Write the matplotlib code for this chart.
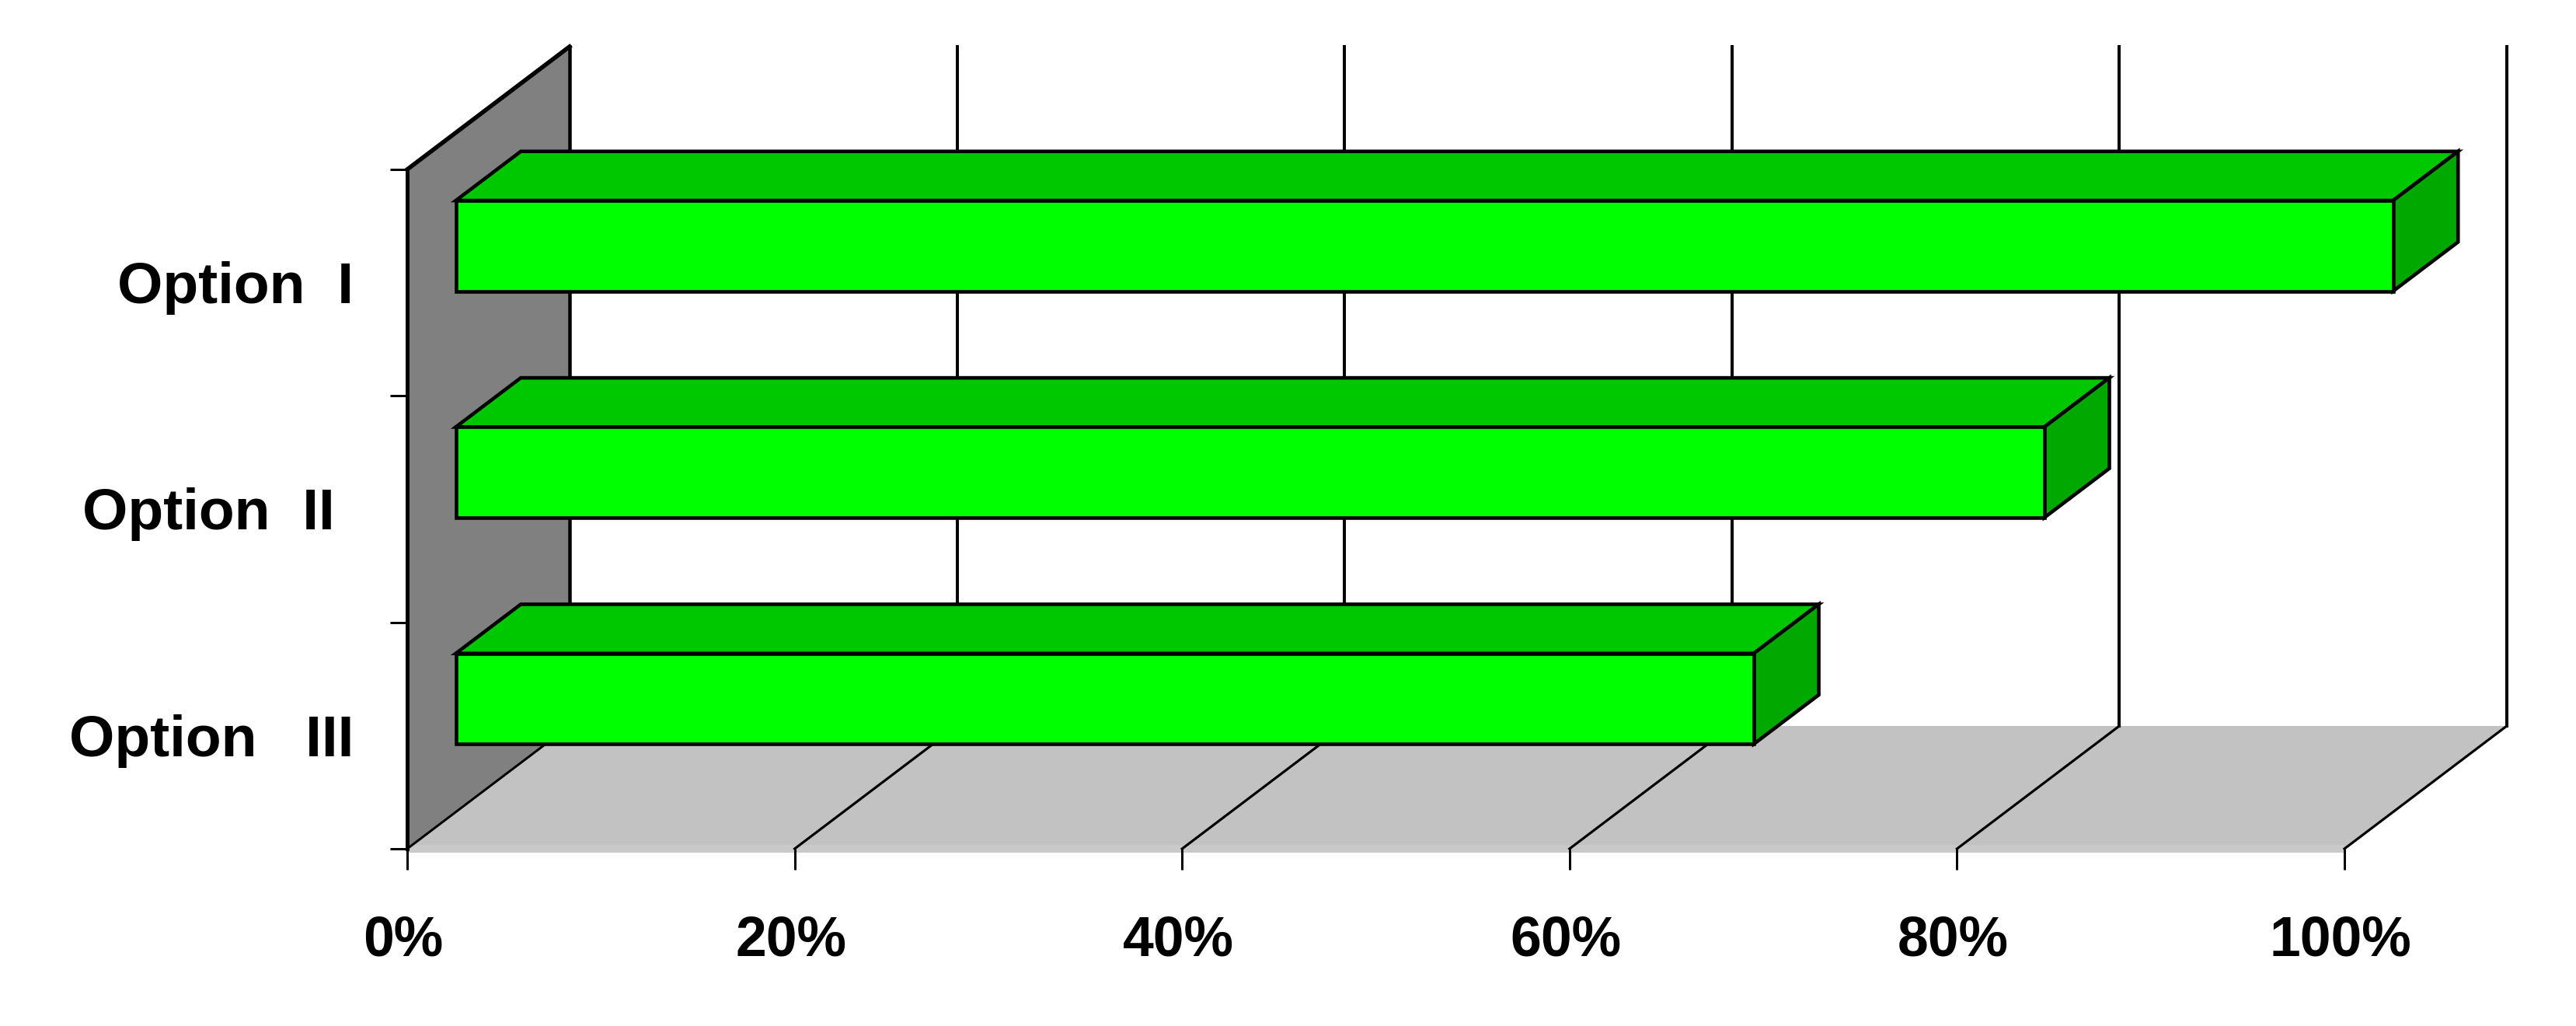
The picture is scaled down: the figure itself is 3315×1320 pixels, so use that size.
import matplotlib
matplotlib.use("Agg")
import matplotlib.pyplot as plt
from matplotlib.patches import Polygon
from matplotlib.transforms import ScaledTranslation

plt.rcParams['font.family'] = ['Liberation Sans', 'DejaVu Sans']

categories = ['Option  I', 'Option  II', 'Option   III']
values = [100, 82, 67]
x_ticks = [0, 20, 40, 60, 80, 100]
x_tick_labels = ['0%', '20%', '40%', '60%', '80%', '100%']

W, H = 3316, 1320
DPI = 100
PX = 72 / DPI

# oblique depth vector (data units per full depth of the plot box)
DEPTH_X = 8.38
DEPTH_Y = 0.5424
BAR_NEAR, BAR_FAR = 0.30, 0.70
BAR_HALF = 0.20


def proj(x, y, d):
    return (x + d * DEPTH_X, y - d * DEPTH_Y)


fig = plt.figure(figsize=(W / DPI, H / DPI), dpi=DPI, facecolor='white')
ax = fig.add_axes([524 / W, (H - 1092) / H, (3017 - 524) / W, (1092 - 218) / H])
ax.set_facecolor('none')
ax.set_xlim(0, 100)
ax.set_ylim(len(categories), 0)
for s in ax.spines.values():
    s.set_visible(False)

n = len(categories)


def poly(pts, fc, ec='none', lw=0, z=1):
    ax.add_patch(Polygon(pts, closed=True, facecolor=fc, edgecolor=ec, linewidth=lw,
                         joinstyle='miter', clip_on=False, zorder=z))


def line(p, q, lw, z=2):
    ax.plot([p[0], q[0]], [p[1], q[1]], color='black', lw=lw * PX, clip_on=False,
            solid_capstyle='projecting', zorder=z)


# floor
poly([proj(0, n, 0), proj(100, n, 0), proj(100, n, 1), proj(0, n, 1)], '#C2C2C2', z=1)
poly([(0, n - 0.018), (100, n - 0.018), (100, n + 0.016), (0, n + 0.016)], '#C9C9C9', z=1.1)

# left wall
poly([proj(0, 0, 0), proj(0, 0, 1), proj(0, n, 1), proj(0, n, 0)], '#808080', z=1.2)
line(proj(0, 0, 0), proj(0, n, 0), 5)
line(proj(0, 0, 0), proj(0, 0, 1), 5.5)
line(proj(0, 0, 1), proj(0, n, 1), 4.5)
line(proj(0, n, 0), proj(0, n, 1), 3)

# gridlines: floor diagonal + back wall vertical
for t in x_ticks[1:]:
    line(proj(t, n, 0), proj(t, n, 1), 3.2)
    line(proj(t, n, 1), proj(t, 0, 1), 4)

# bars
for i, v in enumerate(values):
    top, bot = i + 0.5 - BAR_HALF, i + 0.5 + BAR_HALF
    z = 3 + i * 0.1
    kw = dict(ec='black', lw=4.6 * PX, z=z)
    poly([proj(0, top, BAR_NEAR), proj(v, top, BAR_NEAR), proj(v, top, BAR_FAR), proj(0, top, BAR_FAR)],
         '#00C800', **kw)
    poly([proj(v, top, BAR_NEAR), proj(v, bot, BAR_NEAR), proj(v, bot, BAR_FAR), proj(v, top, BAR_FAR)],
         '#00A800', **kw)
    poly([proj(0, top, BAR_NEAR), proj(v, top, BAR_NEAR), proj(v, bot, BAR_NEAR), proj(0, bot, BAR_NEAR)],
         '#00FF00', **kw)

# x axis
ax.set_xticks(x_ticks)
ax.set_xticklabels(x_tick_labels, fontsize=51.5, fontweight='bold')
ax.tick_params(axis='x', length=27 * PX, width=3 * PX, pad=58 * PX, color='black')
x_shift = ScaledTranslation(-5 / DPI, 0, fig.dpi_scale_trans)
for lab in ax.get_xticklabels():
    lab.set_transform(lab.get_transform() + x_shift)

# y axis: boundary ticks + centred category labels
ax.set_yticks(range(n + 1))
ax.set_yticklabels([])
ax.tick_params(axis='y', which='major', length=22 * PX, width=3 * PX, color='black')
ax.set_yticks([i + 0.5 for i in range(n)], minor=True)
ax.set_yticklabels(categories, minor=True, fontsize=54, fontweight='bold', va='center')
ax.tick_params(axis='y', which='minor', length=0)
y_shift = ScaledTranslation(0, -7 / DPI, fig.dpi_scale_trans)
for tick, pad in zip(ax.yaxis.get_minor_ticks(), [69, 93, 69]):
    tick.set_pad(pad * PX)
    tick.label1.set_transform(tick.label1.get_transform() + y_shift)

fig.savefig('out.png', dpi=DPI, facecolor='white')
